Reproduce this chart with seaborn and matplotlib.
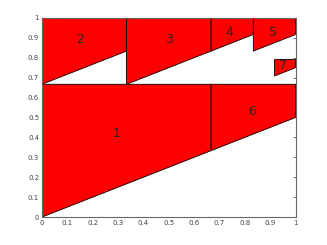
import matplotlib
matplotlib.use("Agg")
import matplotlib.pyplot as plt
import seaborn as sns

# --- data ---
labels = ["1", "2", "3", "4", "5", "6", "7"]
x_left = [0, 0, 1/3, 2/3, 5/6, 2/3, 11/12]
x_right = [2/3, 1/3, 2/3, 5/6, 1, 1, 1]
y_top = [2/3, 1, 1, 1, 1, 2/3, 19/24]
y_bot_left = [0, 2/3, 2/3, 5/6, 5/6, 1/3, 17/24]
y_bot_right = [1/3, 5/6, 5/6, 11/12, 11/12, 1/2, 3/4]
label_x = [0.295, 0.15, 0.5, 0.74, 0.91, 0.83, 0.95]
label_y = [0.42, 0.89, 0.89, 0.925, 0.925, 0.53, 0.76]
xticks = [0, 0.1, 0.2, 0.3, 0.4, 0.5, 0.6, 0.7, 0.8, 0.9, 1]
yticks = [0, 0.1, 0.2, 0.3, 0.4, 0.5, 0.6, 0.7, 0.8, 0.9, 1]
tick_labels = ["0", "0.1", "0.2", "0.3", "0.4", "0.5", "0.6", "0.7", "0.8", "0.9", "1"]

sns.set_style("white")
plt.rcParams["font.family"] = ["DejaVu Sans"]

fig = plt.figure(figsize=(3.27, 2.45), dpi=100)
ax = fig.add_axes([0.1284, 0.114, 0.7756, 0.813])

for i in range(len(labels)):
    xs = [x_left[i], x_right[i], x_right[i], x_left[i]]
    ys = [y_bot_left[i], y_bot_right[i], y_top[i], y_top[i]]
    ax.fill(xs, ys, facecolor="#ff0000", edgecolor="black", linewidth=0.6, zorder=2)
    # faint triangulation diagonal
    ax.plot([x_left[i], x_right[i]], [y_top[i], y_bot_right[i]], color="#f00000",
            linewidth=0.5, zorder=3)
    ax.text(label_x[i], label_y[i], labels[i], fontsize=9, ha="center", va="center", zorder=4)

ax.set_xlim(0, 1)
ax.set_ylim(0, 1)
ax.set_xticks(xticks)
ax.set_yticks(yticks)
ax.set_xticklabels(tick_labels)
ax.set_yticklabels(tick_labels)
ax.tick_params(direction="in", length=2.5, width=0.5, colors="#444444", labelsize=5,
               top=True, right=True, pad=2)
for s in ax.spines.values():
    s.set_visible(True)
    s.set_color("#666666")
    s.set_linewidth(0.8)

fig.savefig("out.png", dpi=100)
